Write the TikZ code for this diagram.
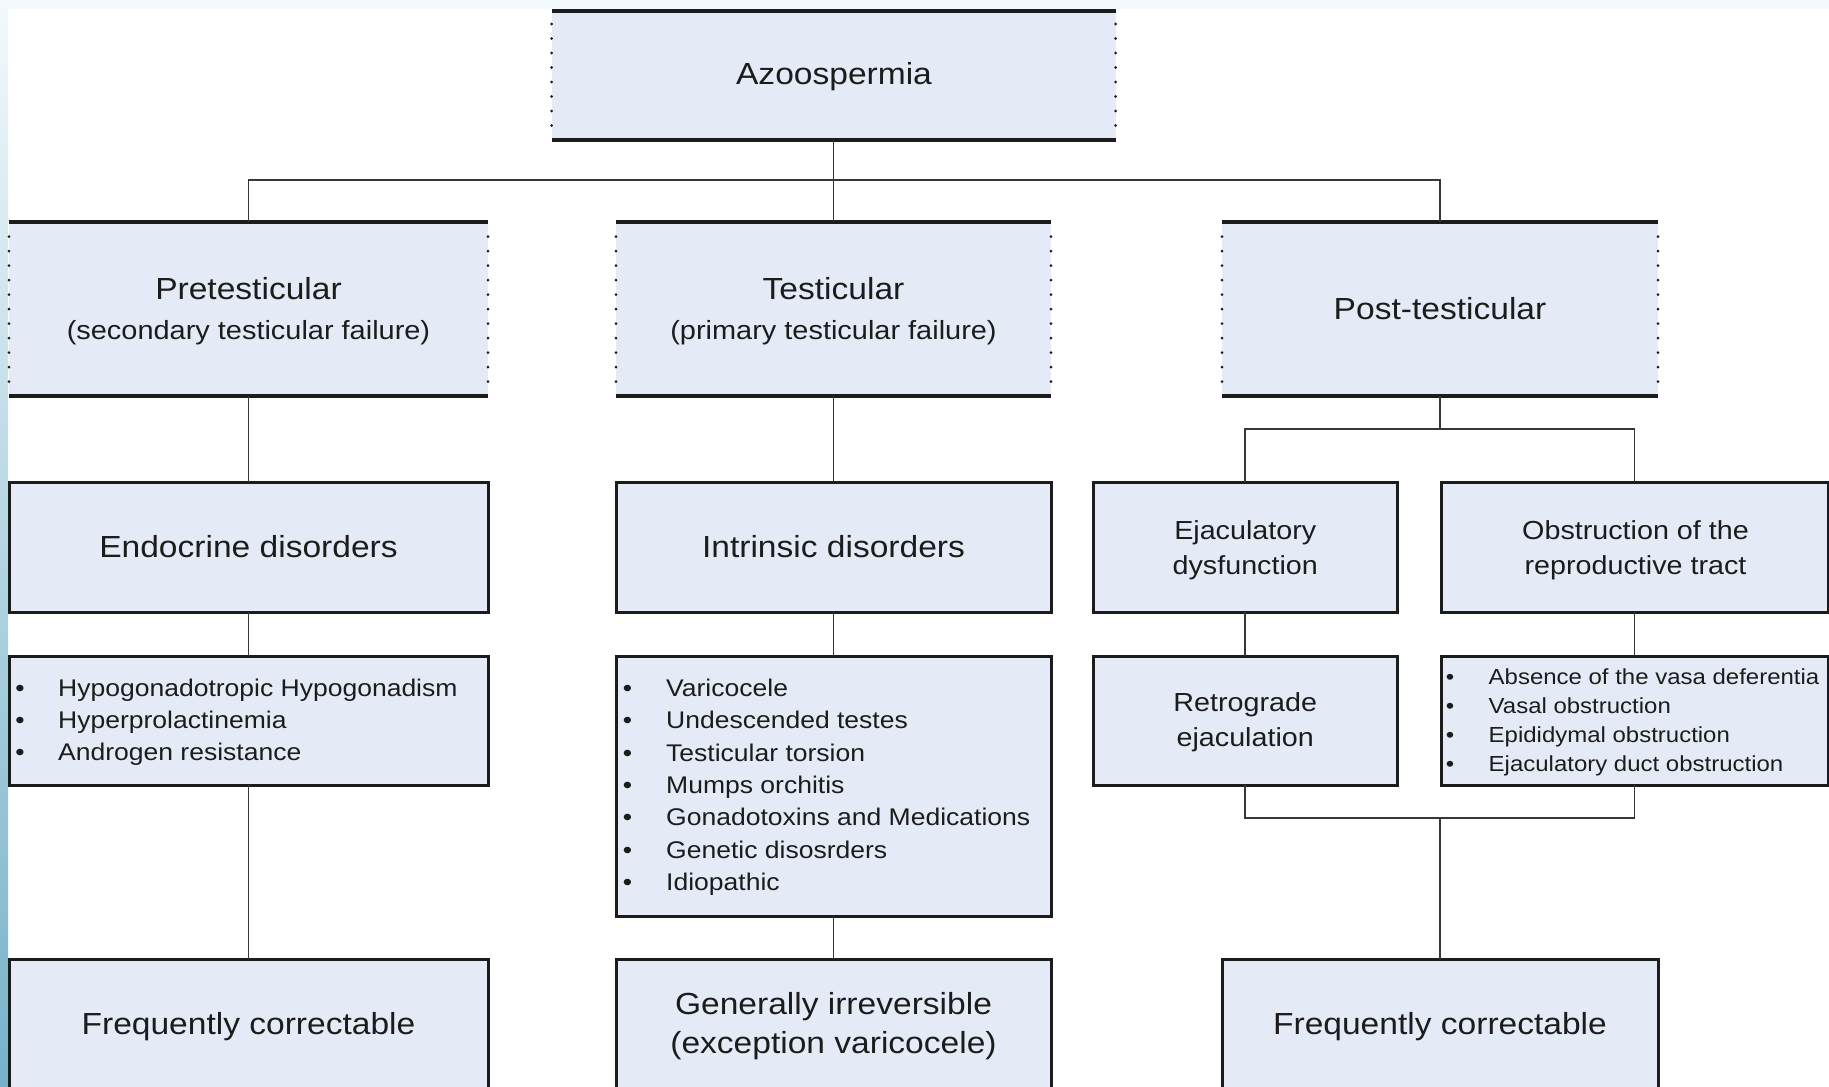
\documentclass[tikz,border=0pt]{standalone}
\usepackage{fontspec}
\setmainfont{Liberation Sans}[FakeStretch=1.1]
\definecolor{boxfill}{RGB}{229,235,246}
\definecolor{ink}{RGB}{28,28,28}
\definecolor{wirec}{RGB}{55,55,55}
\definecolor{edgepale}{RGB}{243,249,252}
\definecolor{edgemid}{RGB}{205,229,238}
\definecolor{edgedark}{RGB}{118,178,200}
\newcommand\fsz[1]{\fontsize{#1}{#1}\selectfont}
\begin{document}
\begin{tikzpicture}[x=1pt,y=-1pt,
  boxbase/.style={fill=boxfill,inner sep=0pt,outer sep=0pt},
  solidbox/.style={boxbase,draw=ink,line width=3pt},
  openbox/.style={boxbase,draw=none},
  wire/.style={draw=wirec,line width=1.7pt},
  rail/.style={draw=ink,line width=3.6pt},
  dots/.style={draw=ink,line width=3pt,line cap=round,dash pattern=on 0pt off 14.5pt},
  txt/.style={text=ink,inner sep=0pt,anchor=base},
  item/.style={text=ink,inner sep=0pt,anchor=base west},
]
\useasboundingbox (0,0) rectangle (1829,1087);
\clip (0,0) rectangle (1829,1087);
\fill[white] (0,0) rectangle (1829,1087);
\fill[edgepale] (0,0) rectangle (1829,9);
\shade[top color=edgepale,middle color=edgemid,bottom color=edgedark] (0,0) rectangle (8,1087);

% ---- boxes ----
\node[openbox,minimum width=564pt,minimum height=129pt] (top) at (833.5,75.5) {};
\node[openbox,minimum width=479pt,minimum height=174pt] (pre) at (248.5,309) {};
\node[openbox,minimum width=435pt,minimum height=174pt] (tes) at (833.5,309) {};
\node[openbox,minimum width=436pt,minimum height=174pt] (post) at (1440,309) {};

\node[solidbox,minimum width=479pt,minimum height=130pt] (endo) at (248.5,547) {};
\node[solidbox,minimum width=435pt,minimum height=130pt] (intr) at (833.5,547) {};
\node[solidbox,minimum width=304.5pt,minimum height=130pt] (ejac) at (1245.25,547) {};
\node[solidbox,minimum width=387pt,minimum height=130pt] (obst) at (1634.5,547) {};

\node[solidbox,minimum width=479pt,minimum height=129pt] (endol) at (248.5,720.5) {};
\node[solidbox,minimum width=435pt,minimum height=260pt] (intrl) at (833.5,786) {};
\node[solidbox,minimum width=304.5pt,minimum height=129pt] (retro) at (1245.25,720.5) {};
\node[solidbox,minimum width=387pt,minimum height=129pt] (obstl) at (1634.5,720.5) {};

\node[solidbox,minimum width=479pt,minimum height=141pt] (fca) at (248.5,1029.5) {};
\node[solidbox,minimum width=435pt,minimum height=141pt] (gen) at (833.5,1029.5) {};
\node[solidbox,minimum width=436pt,minimum height=141pt] (fcb) at (1440,1029.5) {};

% rails and dotted sides of the open boxes
\foreach \b/\d in {top/13,pre/14.7,tes/14.7,post/14.7}{
  \draw[rail] (\b.north west) -- (\b.north east);
  \draw[rail] (\b.south west) -- (\b.south east);
  \draw[dots] ([yshift=-\d pt]\b.north west) -- ([yshift=12pt]\b.south west);
  \draw[dots] ([yshift=-\d pt]\b.north east) -- ([yshift=12pt]\b.south east);
}

% ---- connectors ----
\coordinate (ja) at (833.5,180);
\coordinate (jb) at (1440,429);
\coordinate (jc) at (1440,818);
\draw[wire] (top.south) -- (ja);
\draw[wire] (pre.north) -- (pre.north |- ja) -- (post.north |- ja) -- (post.north);
\draw[wire] (ja) -- (tes.north);
\draw[wire] (pre.south) -- (endo.north);
\draw[wire] (endo.south) -- (endol.north);
\draw[wire] (endol.south) -- (fca.north);
\draw[wire] (tes.south) -- (intr.north);
\draw[wire] (intr.south) -- (intrl.north);
\draw[wire] (intrl.south) -- (gen.north);
\draw[wire] (post.south) -- (jb);
\draw[wire] (ejac.north) -- (ejac.north |- jb) -- (obst.north |- jb) -- (obst.north);
\draw[wire] (ejac.south) -- (retro.north);
\draw[wire] (obst.south) -- (obstl.north);
\draw[wire] (retro.south) -- (retro.south |- jc) -- (obstl.south |- jc) -- (obstl.south);
\draw[wire] (jc) -- (fcb.north);

% ---- texts ----
\node[txt,font=\fsz{30.5}] (tA) at (834,84) {Azoospermia};
\node[txt,font=\fsz{30.5}] (tP1) at (248.5,299) {Pretesticular};
\node[txt,font=\fsz{26.3}] (tP2) at (248.5,339) {(secondary testicular failure)};
\node[txt,font=\fsz{30.5}] (tT1) at (833.5,299) {Testicular};
\node[txt,font=\fsz{26.3}] (tT2) at (833.5,339) {(primary testicular failure)};
\node[txt,font=\fsz{30.5}] (tPo) at (1440,319) {Post-testicular};

\node[txt,font=\fsz{30.5}] (tE) at (248.5,557) {Endocrine disorders};
\node[txt,font=\fsz{30.5}] (tI) at (833.5,557) {Intrinsic disorders};
\node[txt,font=\fsz{26.1}] (tJ1) at (1245.25,539) {Ejaculatory};
\node[txt,font=\fsz{26.1}] (tJ2) at (1245.25,574) {dysfunction};
\node[txt,font=\fsz{26.1}] (tO1) at (1635.5,539) {Obstruction of the};
\node[txt,font=\fsz{26.1}] (tO2) at (1635.5,574) {reproductive tract};

\foreach \i/\t [count=\k] in {696.5/Hypogonadotropic Hypogonadism,728.5/Hyperprolactinemia,760.5/Androgen resistance}{
  \node[txt,font=\fsz{24.1}] (be\k) at (20,\i) {\textbullet};
  \node[item,font=\fsz{24.1}] (ie\k) at (58,\i) {\t};
}
\foreach \i/\t [count=\k] in {696.5/Varicocele,728.8/Undescended testes,761.1/Testicular torsion,793.4/Mumps orchitis,825.7/Gonadotoxins and Medications,858/Genetic disosrders,890.3/Idiopathic}{
  \node[txt,font=\fsz{24.1}] (bi\k) at (627.6,\i) {\textbullet};
  \node[item,font=\fsz{24.1}] (ii\k) at (666,\i) {\t};
}
\node[txt,font=\fsz{26.1}] (tR1) at (1245.25,711) {Retrograde};
\node[txt,font=\fsz{26.1}] (tR2) at (1245.25,746) {ejaculation};
\foreach \i/\t [count=\k] in {684/Absence of the vasa deferentia,713/Vasal obstruction,742/Epididymal obstruction,771/Ejaculatory duct obstruction}{
  \node[txt,font=\fsz{21.8}] (bo\k) at (1450,\i) {\textbullet};
  \node[item,font=\fsz{21.8}] (io\k) at (1488.5,\i) {\t};
}

\node[txt,font=\fsz{30.5}] (tF1) at (248.5,1034) {Frequently correctable};
\node[txt,font=\fsz{30.5}] (tG1) at (833.5,1014) {Generally irreversible};
\node[txt,font=\fsz{30.5}] (tG2) at (833.5,1053.5) {(exception varicocele)};
\node[txt,font=\fsz{30.5}] (tF2) at (1440,1034) {Frequently correctable};
\end{tikzpicture}
\end{document}
